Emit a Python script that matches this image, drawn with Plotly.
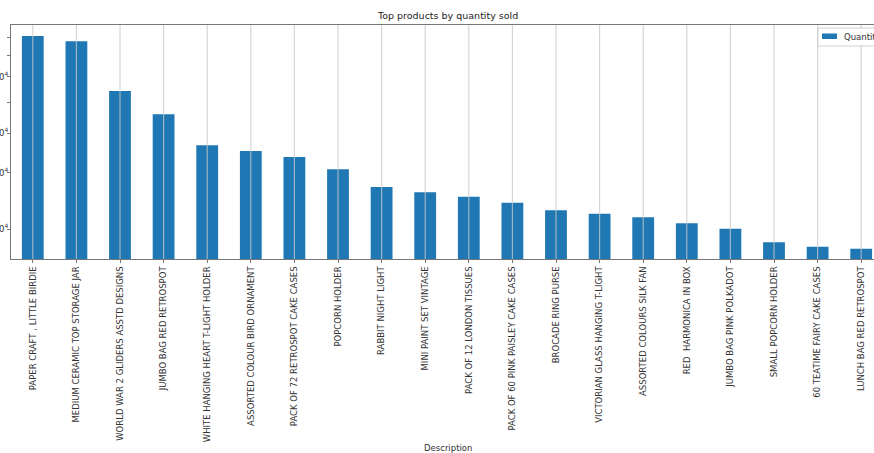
import plotly.graph_objects as go

# ---- data ----
descriptions = [
    "PAPER CRAFT , LITTLE BIRDIE",
    "MEDIUM CERAMIC TOP STORAGE JAR",
    "WORLD WAR 2 GLIDERS ASSTD DESIGNS",
    "JUMBO BAG RED RETROSPOT",
    "WHITE HANGING HEART T-LIGHT HOLDER",
    "ASSORTED COLOUR BIRD ORNAMENT",
    "PACK OF 72 RETROSPOT CAKE CASES",
    "POPCORN HOLDER",
    "RABBIT NIGHT LIGHT",
    "MINI PAINT SET VINTAGE",
    "PACK OF 12 LONDON TISSUES",
    "PACK OF 60 PINK PAISLEY CAKE CASES",
    "BROCADE RING PURSE",
    "VICTORIAN GLASS HANGING T-LIGHT",
    "ASSORTED COLOURS SILK FAN",
    "RED  HARMONICA IN BOX",
    "JUMBO BAG PINK POLKADOT",
    "SMALL POPCORN HOLDER",
    "60 TEATIME FAIRY CAKE CASES",
    "LUNCH BAG RED RETROSPOT",
]
quantity = [80700, 77700, 54240, 45810, 36620, 35150, 33650, 30790, 27100, 26080,
            25260, 24190, 22890, 22340, 21770, 20840, 20040, 18170, 17600, 17350]

y_tick_vals = [20000, 30000, 40000, 60000]
y_tick_text = ["2×10<sup>4</sup>", "3×10<sup>4</sup>", "4×10<sup>4</sup>", "6×10<sup>4</sup>"]
y_minor_vals = [50000, 70000, 80000]

series_name = "Quantity"
title_text = "Top products by quantity sold"
xaxis_title = "Description"

# ---- figure ----
W, H = 874, 453
L, R, T, B = 11, 0, 25, 194
pw = W - L - R
ph = H - T - B


def px_x(p):
    return (p - L) / pw


def px_y(p):
    return 1 - (p - T) / ph


fig = go.Figure()
fig.add_trace(go.Bar(
    x=descriptions, y=quantity, name=series_name,
    marker=dict(color="#1f77b4", line=dict(width=0)),
    width=0.5, showlegend=False,
))

shapes = []
# vertical grid lines drawn above the bars (matplotlib style)
for d in descriptions:
    shapes.append(dict(type="line", xref="x", yref="paper", x0=d, x1=d, y0=0, y1=1,
                       line=dict(color="rgba(200,200,200,0.75)", width=1.2), layer="above"))
# legend box (matplotlib-like, clipped at right edge)
shapes.append(dict(type="rect", xref="paper", yref="paper",
                   x0=px_x(818), x1=px_x(900), y0=px_y(46), y1=px_y(28),
                   line=dict(color="#d0d0d0", width=1), fillcolor="rgba(255,255,255,0.85)",
                   layer="above"))
shapes.append(dict(type="rect", xref="paper", yref="paper",
                   x0=px_x(822), x1=px_x(837), y0=px_y(39), y1=px_y(33.5),
                   line=dict(width=0), fillcolor="#1f77b4", layer="above"))

fig.update_layout(
    width=W, height=H,
    margin=dict(l=L, r=R, t=T, b=B, autoexpand=False),
    paper_bgcolor="white", plot_bgcolor="white",
    font=dict(family="DejaVu Sans", color="#333333", size=9),
    shapes=shapes,
    showlegend=False,
    bargap=0.5,
)

fig.update_xaxes(
    type="category",
    range=[-0.5, -0.5 + pw / 43.6],
    showgrid=False,
    showline=True, linecolor="#777777", linewidth=1, mirror=True,
    ticks="outside", ticklen=3, tickcolor="#777777",
    tickangle=-90, tickfont=dict(size=8.5, color="#333333"),
    automargin=False,
)
fig.update_yaxes(
    type="log",
    range=[4.2069, 4.9413],
    tickvals=y_tick_vals, ticktext=y_tick_text,
    minor=dict(tickvals=y_minor_vals, ticks="outside", ticklen=3, tickcolor="#777777",
               showgrid=False),
    showgrid=False,
    showline=True, linecolor="#777777", linewidth=1, mirror=False,
    ticks="outside", ticklen=3, tickcolor="#777777",
    tickfont=dict(size=8.5, color="#333333"),
    ticklabelstandoff=-3,
    automargin=False,
)

fig.add_annotation(text=series_name, xref="paper", yref="paper",
                   x=px_x(842), y=px_y(36.5), xanchor="left", yanchor="middle",
                   showarrow=False, font=dict(size=8.5, color="#333333"))
fig.add_annotation(text=title_text, xref="paper", yref="paper",
                   x=px_x(447.5), y=px_y(16),
                   xanchor="center", yanchor="middle", showarrow=False,
                   font=dict(size=9.5, color="#222222"))
fig.add_annotation(text=xaxis_title, xref="paper", yref="paper",
                   x=px_x(448), y=px_y(448),
                   xanchor="center", yanchor="middle", showarrow=False,
                   font=dict(size=8.5, color="#333333"))

fig.write_html("out.html")
